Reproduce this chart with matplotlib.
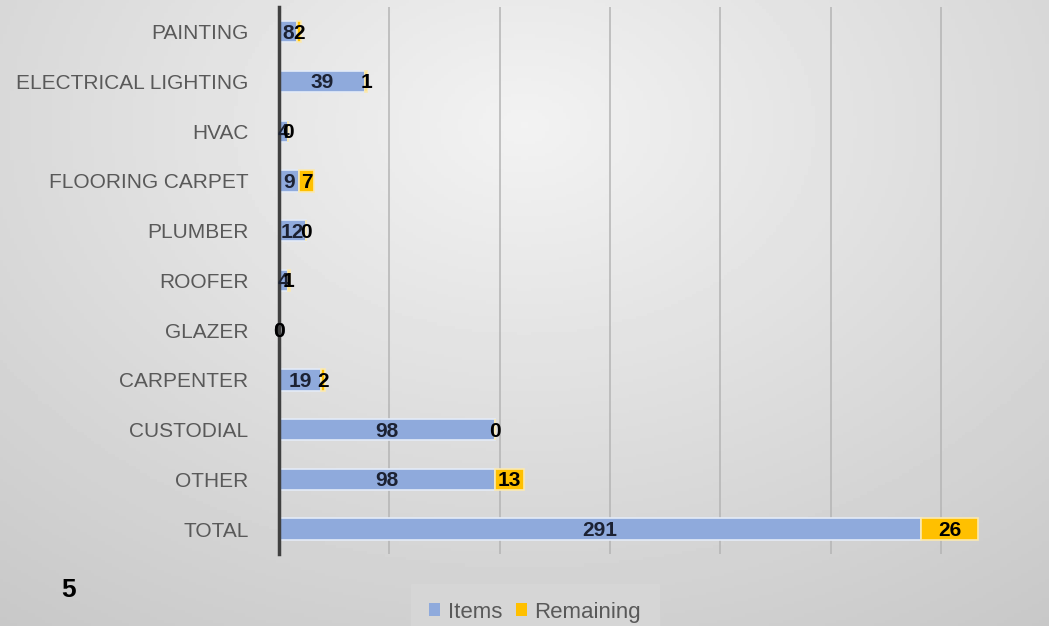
import numpy as np
import matplotlib
matplotlib.use('Agg')
from matplotlib import pyplot as plt

categories = ['PAINTING', 'ELECTRICAL LIGHTING', 'HVAC', 'FLOORING CARPET', 'PLUMBER',
              'ROOFER', 'GLAZER', 'CARPENTER', 'CUSTODIAL', 'OTHER', 'TOTAL']
items = [8, 39, 4, 9, 12, 4, 0, 19, 98, 98, 291]
remaining = [2, 1, 0, 7, 0, 1, 0, 2, 0, 13, 26]

BLUE = '#8faadc'
GOLD = '#ffc000'

plt.rcParams['font.family'] = ['Liberation Sans', 'DejaVu Sans']

fig = plt.figure(figsize=(10.49, 6.26), dpi=100)

# gradient background, lighter toward upper middle
bg = fig.add_axes([0, 0, 1, 1], zorder=-10)
yy, xx = np.mgrid[0:1:200j, 0:1:300j]
r = np.sqrt(((xx - 0.5) / 0.75) ** 2 + ((yy - 0.2) / 0.9) ** 2)
shade = 0.95 - 0.15 * np.clip(r, 0, 1.2)
bg.imshow(shade, cmap='gray', vmin=0, vmax=1, aspect='auto', extent=[0, 1, 1, 0])
bg.axis('off')

ax = fig.add_axes([0.266, 0.115, 0.734, 0.874])
ax.patch.set_alpha(0)

y = np.arange(len(categories))
ax.barh(y, items, height=0.43, color=BLUE, edgecolor='#e4ebf7', lw=1.2, label='Items', zorder=3)
ax.barh(y, remaining, left=items, height=0.43, color=GOLD, edgecolor='#fbe9b0', lw=1.2,
        label='Remaining', zorder=3)

for i in range(len(categories)):
    ax.text(items[i] / 2, y[i] + 0.03, str(items[i]), ha='center', va='center',
            fontsize=15, fontweight='bold', color='#1c2233', zorder=5)
    ax.text(items[i] + remaining[i] / 2, y[i] + 0.03, str(remaining[i]), ha='center',
            va='center', fontsize=15, fontweight='bold', color='black', zorder=5)

ax.set_xlim(0, 349)
ax.set_ylim(len(categories) - 0.5, -0.5)
ax.set_yticks(y)
ax.set_yticklabels(categories, fontsize=15, color='#595959')
ax.set_xticks(np.arange(50, 350, 50))
ax.set_xticklabels([])
ax.tick_params(axis='y', length=0, pad=22)
ax.tick_params(axis='x', length=0)
ax.grid(axis='x', color='#b4b4b4', lw=1.1, zorder=0)
for s in ['top', 'right', 'bottom']:
    ax.spines[s].set_visible(False)
ax.spines['left'].set_color('#404040')
ax.spines['left'].set_linewidth(2.5)
ax.spines['left'].set_zorder(4)

leg = fig.legend(loc='lower center', bbox_to_anchor=(0.51, -0.03), ncol=2, frameon=True,
                 fontsize=16, handlelength=0.5, handleheight=0.5, handletextpad=0.35,
                 columnspacing=0.6, borderpad=0.5)
leg.get_frame().set_facecolor('#d6d6d6')
leg.get_frame().set_edgecolor('#d6d6d6')
leg.get_frame().set_alpha(1)
leg.get_frame().set_boxstyle('square', pad=0.3)
for t in leg.get_texts():
    t.set_color('#595959')
for h in leg.legend_handles:
    h.set_edgecolor('none')

fig.text(0.065, 0.057, '5', fontsize=19, fontweight='bold', ha='center', va='center')

fig.savefig('out.png', dpi=100)
